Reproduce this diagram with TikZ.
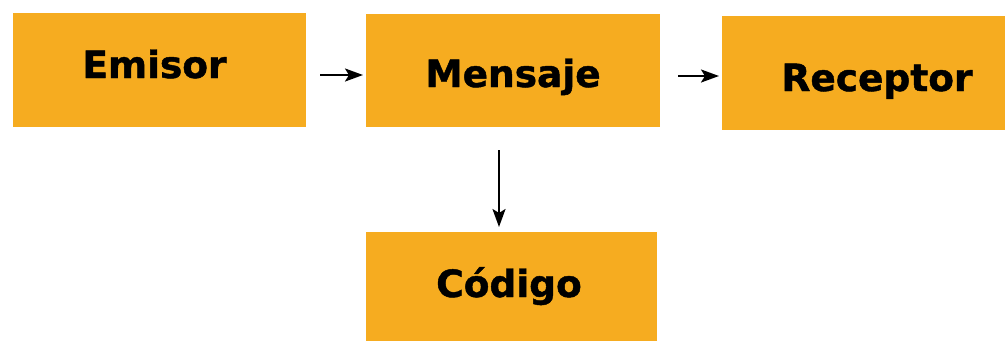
\documentclass[tikz,border=0pt]{standalone}
\usepackage{fontspec}
\setmainfont{DejaVu Sans}[BoldFeatures={FakeBold=1.2}]
\usetikzlibrary{arrows.meta}
\definecolor{boxfill}{RGB}{246,172,32}
\tikzset{
  box/.style={fill=boxfill, draw=none, inner sep=0pt, outer sep=0pt},
  boxtext/.style={anchor=base, inner sep=0pt, font=\fontsize{37.5}{46}\selectfont\bfseries},
  conn/.style={line width=2.4pt, -{Stealth[length=18pt,width=13pt,inset=4pt]}}
}
\begin{document}
\begin{tikzpicture}[x=1pt,y=-1pt]
\useasboundingbox (0,0) rectangle (1005,341);
\node[box, minimum width=293pt, minimum height=114pt] (emisor) at (159.5,70) {};
\node[box, minimum width=294pt, minimum height=113pt] (mensaje) at (513,70.5) {};
\node[box, minimum width=283pt, minimum height=114pt] (receptor) at (863.5,73) {};
\node[box, minimum width=291pt, minimum height=109pt] (codigo) at (511.5,286.5) {};
\node[boxtext] (temisor) at (154.5,78) {Emisor};
\node[boxtext] (tmensaje) at (513,87) {Mensaje};
\node[boxtext] (treceptor) at (877,91) {Receptor};
\node[boxtext] (tcodigo) at (509,297) {Código};
\draw[conn, shorten <=14pt, shorten >=3pt] ([yshift=-5pt]emisor.east) -- ([yshift=-4.5pt]mensaje.west);
\draw[conn, shorten <=18pt, shorten >=3pt] ([yshift=-5.5pt]mensaje.east) -- ([yshift=-3pt]receptor.west);
\draw[conn, shorten <=23pt, shorten >=5pt] ([xshift=-14pt]mensaje.south) -- ([xshift=-12.5pt]codigo.north);
\end{tikzpicture}
\end{document}
